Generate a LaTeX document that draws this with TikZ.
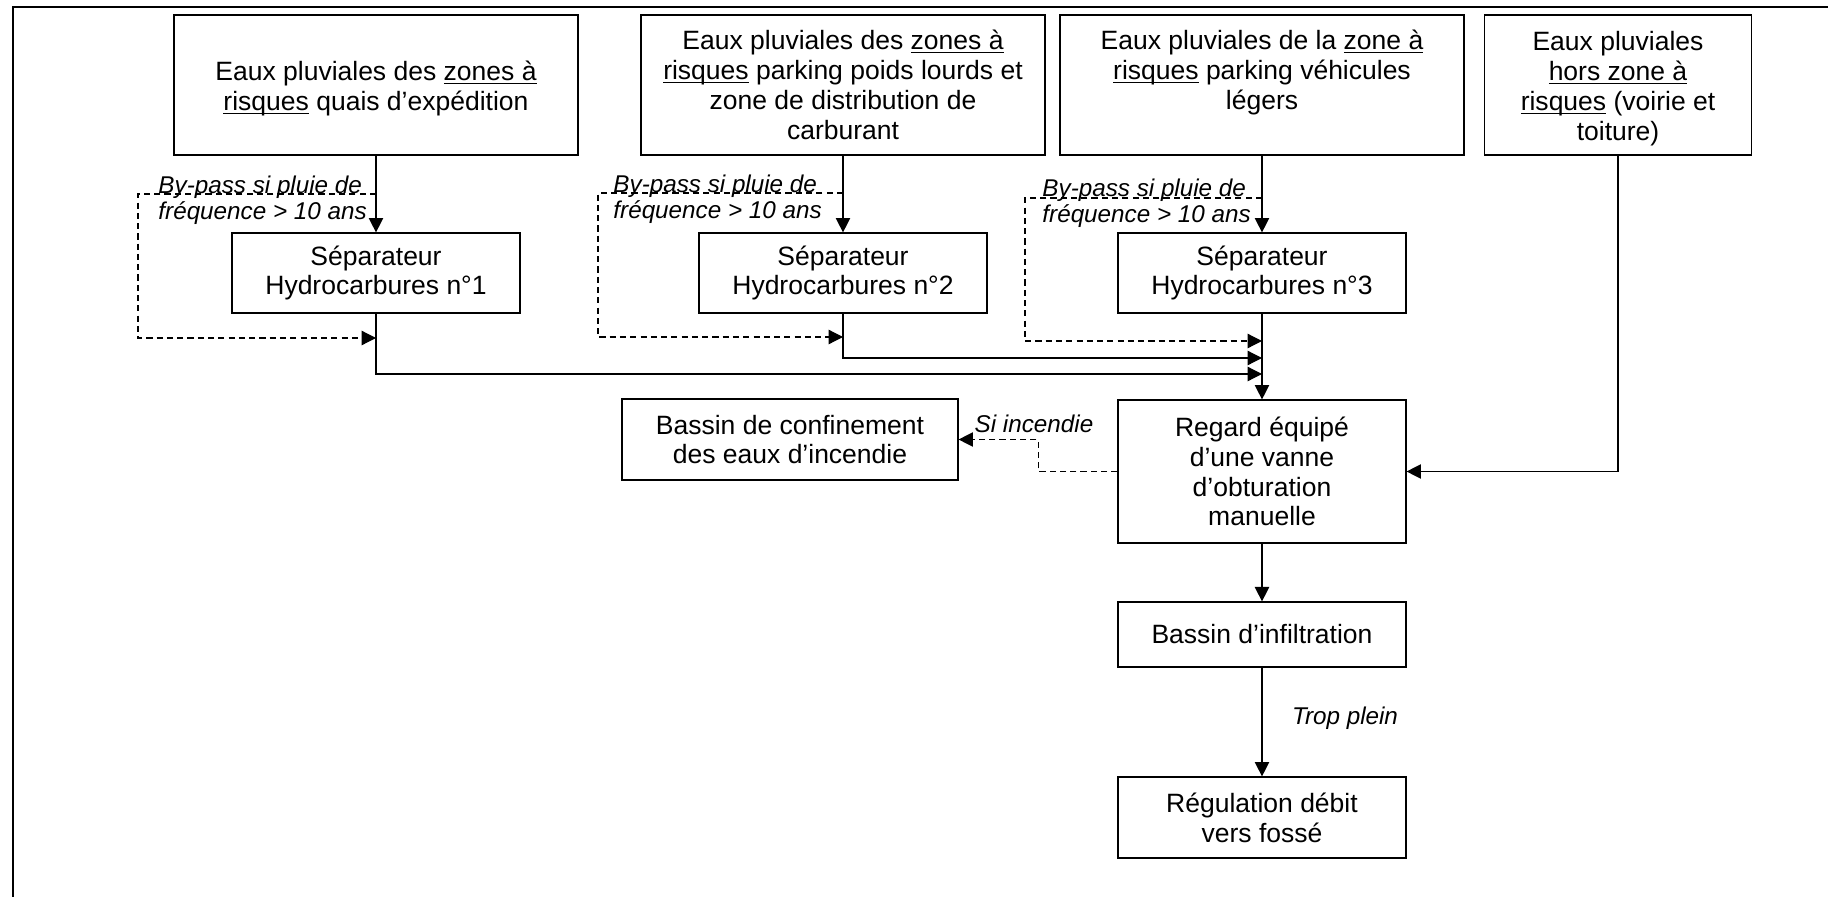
\documentclass[tikz,border=0pt]{standalone}
\usepackage{fontspec}
\setmainfont{Liberation Sans}
\usepackage{tikz}
\usetikzlibrary{arrows.meta}

\newcommand{\souligne}[1]{\underline{\smash{#1}}}

\begin{document}
\begin{tikzpicture}[
    x=0.0171cm, y=-0.0171cm,
    box/.style={draw, line width=0.6pt, align=center, inner sep=2pt,
      font=\fontsize{12.9}{14.5}\selectfont},
    note/.style={inner sep=1pt, align=left, font=\fontsize{11.8}{12.4}\selectfont\itshape},
    flow/.style={-{Triangle[length=7pt,width=7pt]}, line width=0.6pt},
    bypass/.style={flow, dash pattern=on 3pt off 2pt}
  ]
    \useasboundingbox (0,0) rectangle (1828,897);
    \draw[line width=1.1pt] (13,897) -- (13,7) -- (1828,7);

    % sources
    \node[box, minimum width=6.908cm, minimum height=2.394cm] (q1) at (376,85)
      {\rule{0pt}{13pt}Eaux pluviales des \souligne{zones à}\\\souligne{risques} quais d’expédition};
    \node[box, minimum width=6.908cm, minimum height=2.394cm] (q2) at (843,85)
      {Eaux pluviales des \souligne{zones à}\\\souligne{risques} parking poids lourds et\\zone de distribution de\\carburant};
    \node[box, minimum width=6.908cm, minimum height=2.394cm] (q3) at (1262,85)
      {Eaux pluviales de la \souligne{zone à}\\\souligne{risques} parking véhicules\\légers\\\mbox{}};
    \node[box, minimum width=4.566cm, minimum height=2.394cm] (q4) at (1618,85)
      {\rule{0pt}{13pt}Eaux pluviales\\\souligne{hors zone à}\\\souligne{risques} (voirie et\\toiture)};

    % separateurs
    \node[box, minimum width=4.925cm, minimum height=1.368cm] (s1) at (376,273) {Séparateur\\Hydrocarbures n°1};
    \node[box, minimum width=4.925cm, minimum height=1.368cm] (s2) at (843,273) {Séparateur\\Hydrocarbures n°2};
    \node[box, minimum width=4.925cm, minimum height=1.368cm] (s3) at (1262,273) {Séparateur\\Hydrocarbures n°3};

    \node[box, minimum width=4.925cm, minimum height=2.445cm] (rg) at (1262,471.5)
      {Regard équipé\\d’une vanne\\d’obturation\\manuelle};
    \node[box, minimum width=5.746cm, minimum height=1.385cm] (conf) at (790,439.5)
      {Bassin de confinement\\des eaux d’incendie};
    \node[box, minimum width=4.925cm, minimum height=1.112cm] (infil) at (1262,634.5) {Bassin d’infiltration};
    \node[box, minimum width=4.925cm, minimum height=1.385cm] (regul) at (1262,817.5)
      {Régulation débit\\vers fossé};

    \coordinate (b1) at (376,194);
    \coordinate (b2) at (843,193);
    \coordinate (b3) at (1262,198);
    \coordinate (j1) at (376,338);
    \coordinate (j2) at (843,337);
    \coordinate (j3) at (1262,341);
    \coordinate (m1) at (1262,374);
    \coordinate (m2) at (1262,358);

    \node[note, anchor=west] (bp1) at (156,200) {By-pass si pluie de\\fréquence > 10 ans};
    \node[note, anchor=west] (bp2) at (611,199) {By-pass si pluie de\\fréquence > 10 ans};
    \node[note, anchor=west] (bp3) at (1040,203) {By-pass si pluie de\\fréquence > 10 ans};
    \node[note] (inc) at (1034,424) {Si incendie};
    \node[note] (trop) at (1345,718) {Trop plein};

    \draw[flow] (q1) -- (s1);
    \draw[flow] (q2) -- (s2);
    \draw[flow] (q3) -- (s3);
    \draw[bypass] (b1) -- ++(-238,0) |- (j1);
    \draw[bypass] (b2) -- ++(-245,0) |- (j2);
    \draw[bypass] (b3) -- ++(-237,0) |- (j3);
    \draw[flow] (s1) |- (m1);
    \draw[flow] (s2) |- (m2);
    \draw[flow] (s3) -- (rg);
    \draw[flow] (q4) |- (rg);
    \draw[bypass] (rg.west) -- ++(-79,0) |- (conf);
    \draw[flow] (rg) -- (infil);
    \draw[flow] (infil) -- (regul);
  \end{tikzpicture}
\end{document}
